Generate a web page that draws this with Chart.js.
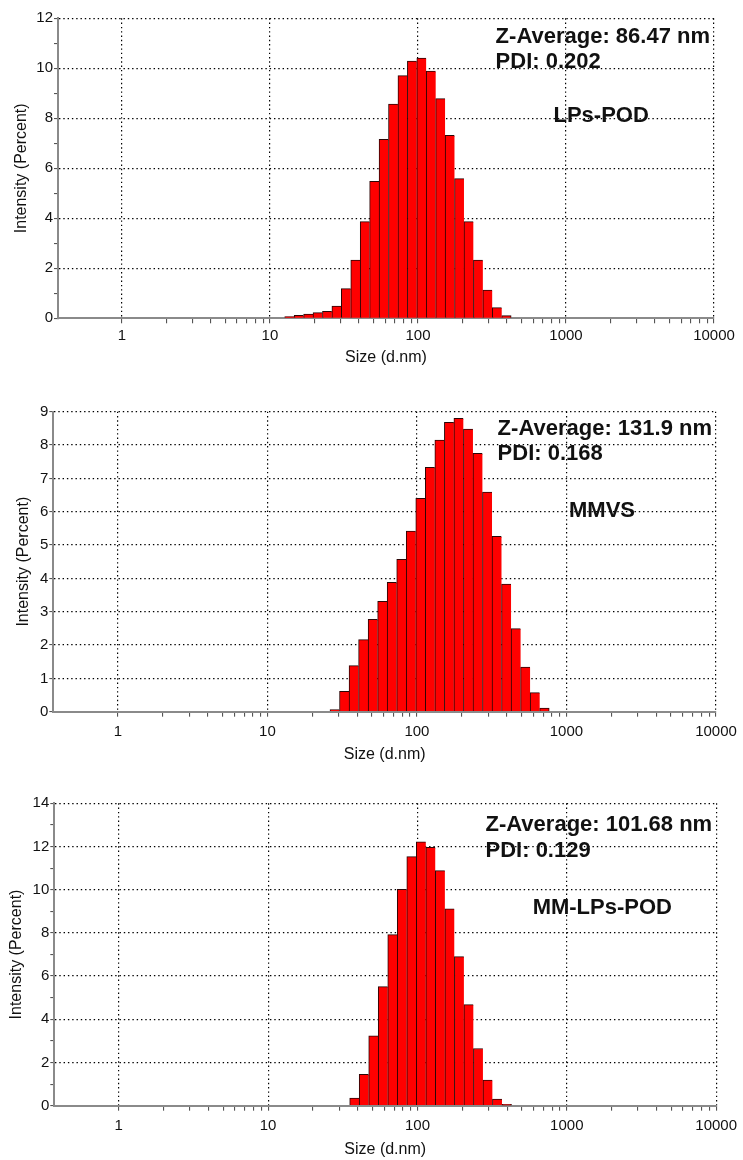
<!DOCTYPE html>
<html>
<head>
<meta charset="utf-8">
<script src="https://cdn.jsdelivr.net/npm/chart.js@4.4.1/dist/chart.umd.min.js"></script>
<style>
    html, body { margin: 0; padding: 0; background: #fff; }
    .panel { position: absolute; left: 0; width: 743px; }
</style>
</head>
<body>
<div class="panel" style="top:0;height:372px"><canvas id="chartLps"></canvas></div>
<div class="panel" style="top:372px;height:397px"><canvas id="chartMmvs"></canvas></div>
<div class="panel" style="top:769px;height:391px"><canvas id="chartMmLps"></canvas></div>
<script>
// size bins (d.nm) and intensity (%)
const sizesLps = [13.54, 15.69, 18.17, 21.04, 24.36, 28.21, 32.67, 37.84, 43.82, 50.75, 58.77, 68.06,
    78.82, 91.28, 105.7, 122.4, 141.8, 164.2, 190.1, 220.2, 255.0, 295.3, 342.0, 396.1];
const intensityLps = [0.07, 0.12, 0.17, 0.23, 0.28, 0.49, 1.19, 2.33, 3.87, 5.48, 7.16, 8.57,
    9.71, 10.29, 10.41, 9.89, 8.79, 7.32, 5.59, 3.87, 2.33, 1.13, 0.43, 0.11];

const sizesMmvs = [28.21, 32.67, 37.84, 43.82, 50.75, 58.77, 68.06, 78.82, 91.28, 105.7, 122.4, 141.8,
    164.2, 190.1, 220.2, 255.0, 295.3, 342.0, 396.1, 458.7, 531.2, 615.1, 712.4];
const intensityMmvs = [0.06, 0.61, 1.38, 2.16, 2.77, 3.31, 3.88, 4.57, 5.42, 6.40, 7.33, 8.15,
    8.68, 8.80, 8.48, 7.75, 6.59, 5.26, 3.83, 2.49, 1.34, 0.57, 0.11];

const sizesMmLps = [37.84, 43.82, 50.75, 58.77, 68.06, 78.82, 91.28, 105.7, 122.4, 141.8, 164.2,
    190.1, 220.2, 255.0, 295.3, 342.0, 396.1];
const intensityMmLps = [0.35, 1.45, 3.23, 5.51, 7.92, 10.02, 11.53, 12.22, 11.96, 10.88, 9.12,
    6.90, 4.68, 2.65, 1.19, 0.31, 0.06];

const xTickLabels = [1, 10, 100, 1000, 10000];

Chart.defaults.font.family = '"Liberation Sans", Arial, sans-serif';
Chart.defaults.color = '#111';

const DOTS = '#000';
const NONE = 'rgba(0,0,0,0)';

function isDecade(v) {
    const l = Math.log10(v);
    return Math.abs(l - Math.round(l)) < 1e-6;
}
function wholeMantissa(v) {
    const m = v / Math.pow(10, Math.floor(Math.log10(v) + 1e-9));
    return Math.abs(m - Math.round(m)) < 1e-6;
}

// text boxes (Z-Average / PDI / sample name)
const dlsNote = {
    id: 'dlsNote',
    afterDraw(chart, args, o) {
        if (!o || !o.z) return;
        const { ctx, chartArea: a } = chart;
        ctx.save();
        ctx.fillStyle = '#111';
        ctx.font = 'bold 22px "Liberation Sans", Arial, sans-serif';
        ctx.textBaseline = 'alphabetic';
        ctx.textAlign = 'left';
        const left = a.right - 4 - ctx.measureText(o.z).width;
        ctx.fillText(o.z, left, a.top + o.dz);
        ctx.fillText(o.pdi, left, a.top + o.dp);
        ctx.textAlign = 'center';
        ctx.fillText(o.name, a.left + (a.right - a.left) * 0.828, a.top + o.dn);
        ctx.restore();
    }
};
Chart.register(dlsNote);

function drawPanel(id, sizes, values, yMax, yStep, note, g) {
    const last = values.length - 1;
    new Chart(document.getElementById(id), {
        type: 'bar',
        data: {
            datasets: [{
                data: sizes.map((s, i) => ({ x: s, y: values[i] })),
                backgroundColor: '#ff0000',
                borderColor: '#2a0505',
                borderWidth: c => ({ top: 1, left: 1, right: c.dataIndex === last ? 1 : 0, bottom: 0 }),
                barThickness: 'flex',
                categoryPercentage: 1,
                barPercentage: 1
            }]
        },
        options: {
            responsive: true,
            maintainAspectRatio: false,
            animation: false,
            layout: { padding: { top: g.padTop, right: g.padRight, left: 0, bottom: 0 } },
            plugins: { legend: { display: false }, tooltip: { enabled: false }, dlsNote: note },
            scales: {
                x: {
                    type: 'logarithmic',
                    min: 0.37,
                    max: 10000,
                    offset: false,
                    grid: {
                        offset: false,
                        lineWidth: 1.2,
                        color: c => {
                            const v = c.tick ? c.tick.value : 0;
                            return v >= 1 && isDecade(v) ? DOTS : NONE;
                        },
                        tickColor: c => {
                            const v = c.tick ? c.tick.value : 0;
                            return v >= 1 && wholeMantissa(v) ? '#444' : NONE;
                        },
                        tickWidth: 1,
                        tickLength: 5
                    },
                    border: { color: '#8a8a8a', width: 2, dash: [1.4, 2.9] },
                    ticks: {
                        autoSkip: false,
                        maxRotation: 0,
                        minRotation: 0,
                        padding: g.xTickPad,
                        font: { size: 15 },
                        callback: v => xTickLabels.some(t => Math.abs(t - v) < 1e-6) ? String(Math.round(v)) : ''
                    },
                    title: {
                        display: true,
                        text: 'Size (d.nm)',
                        font: { size: 16 },
                        padding: { top: 0, bottom: g.xTitlePad }
                    },
                    afterFit: s => { s.height = g.xHeight; }
                },
                y: {
                    min: 0,
                    max: yMax,
                    grid: {
                        lineWidth: 1.2,
                        color: c => {
                            const v = c.tick ? c.tick.value : 0;
                            return v > 0 && v % yStep === 0 ? DOTS : NONE;
                        },
                        tickColor: '#444',
                        tickWidth: 1,
                        tickLength: 4
                    },
                    border: { color: '#8a8a8a', width: 2, dash: [1.4, 2.9] },
                    ticks: {
                        stepSize: 1,
                        autoSkip: false,
                        padding: 1,
                        font: { size: 15 },
                        callback: v => v % yStep === 0 ? String(v) : ''
                    },
                    title: {
                        display: true,
                        text: 'Intensity (Percent)',
                        font: { size: 16 },
                        padding: { top: g.yTitlePad, bottom: 0 }
                    },
                    afterFit: s => { s.width = g.yWidth; }
                }
            }
        }
    });
}

drawPanel('chartLps', sizesLps, intensityLps, 12, 2,
    { z: 'Z-Average: 86.47 nm', pdi: 'PDI: 0.202', name: 'LPs-POD', dz: 25, dp: 50, dn: 104 },
    { padTop: 18.3, padRight: 29, yWidth: 58, xHeight: 53.7, xTickPad: 3.5, xTitlePad: 4.4, yTitlePad: 12.4 });

drawPanel('chartMmvs', sizesMmvs, intensityMmvs, 9, 1,
    { z: 'Z-Average: 131.9 nm', pdi: 'PDI: 0.168', name: 'MMVS', dz: 23.5, dp: 48.5, dn: 105.5 },
    { padTop: 39.7, padRight: 27, yWidth: 53.3, xHeight: 57.3, xTickPad: 6, xTitlePad: 4.4, yTitlePad: 13.7 });

drawPanel('chartMmLps', sizesMmLps, intensityMmLps, 14, 2,
    { z: 'Z-Average: 101.68 nm', pdi: 'PDI: 0.129', name: 'MM-LPs-POD', dz: 27.5, dp: 53.5, dn: 110.5 },
    { padTop: 34.3, padRight: 26.3, yWidth: 54.3, xHeight: 54.3, xTickPad: 6, xTitlePad: 0.5, yTitlePad: 7 });
</script>
</body>
</html>
